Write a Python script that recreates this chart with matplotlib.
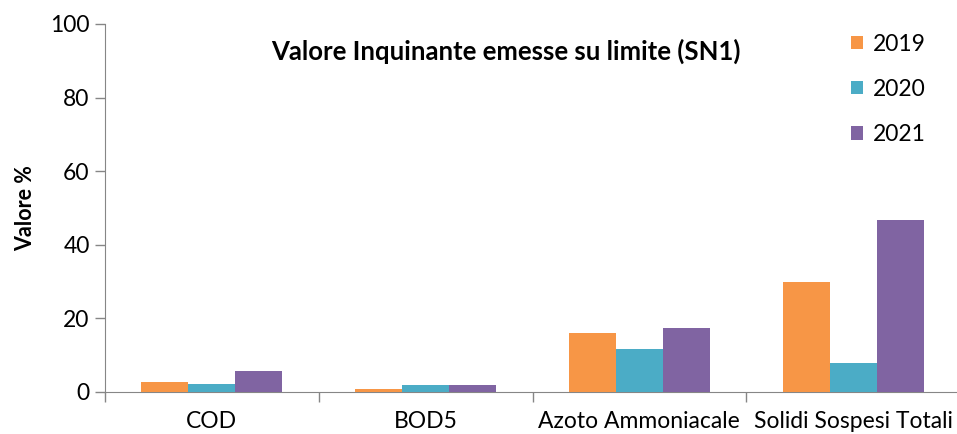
import numpy as np
import matplotlib.pyplot as plt

categories = ["COD", "BOD5", "Azoto Ammoniacale", "Solidi Sospesi Totali"]
years = ["2019", "2020", "2021"]
v2019 = [2.7, 0.9, 16.1, 29.8]
v2020 = [2.3, 1.9, 11.7, 7.8]
v2021 = [5.6, 1.9, 17.4, 46.8]
colors = ["#F79646", "#4BACC6", "#8064A2"]

plt.rcParams['font.family'] = ['Lato', 'DejaVu Sans']

fig = plt.figure(figsize=(9.57, 4.34), dpi=100)
ax = fig.add_axes([105/957, 1-392/434, 855/957, (392-24)/434])

x = np.arange(len(categories))
w = 0.22
for i, (vals, lab) in enumerate(zip([v2019, v2020, v2021], years)):
    ax.bar(x + (i-1)*w, vals, w, color=colors[i], label=lab, zorder=3)

ax.set_xlim(-0.5, len(categories)-0.5)
ax.set_ylim(0, 100)
ax.set_yticks(range(0, 101, 20))
ax.set_xticks(x)
ax.set_xticklabels(categories, fontsize=16.5)
ax.tick_params(axis='x', length=0, pad=14)
ax.set_xticks(np.arange(-0.5, len(categories), 1), minor=True)
ax.tick_params(axis='x', which='minor', length=7, color='#868686', width=1)
ax.tick_params(axis='y', labelsize=16.5, length=7, color='#868686', width=1, pad=4)
for s in ['top', 'right']:
    ax.spines[s].set_visible(False)
for s in ['left', 'bottom']:
    ax.spines[s].set_color('#868686')
ax.set_ylabel("Valore %", fontsize=15.5, fontweight='bold', labelpad=10)
ax.text(0.469, 0.925, "Valore Inquinante emesse su limite (SN1)", transform=ax.transAxes,
        ha='center', va='center', fontsize=18.5, fontweight='bold')
ax.legend(loc='upper left', bbox_to_anchor=(0.848, 1.03), frameon=False, fontsize=16.5,
          handlelength=0.55, handleheight=0.55, labelspacing=1.05, handletextpad=0.4)

plt.savefig("out.png", dpi=100)
